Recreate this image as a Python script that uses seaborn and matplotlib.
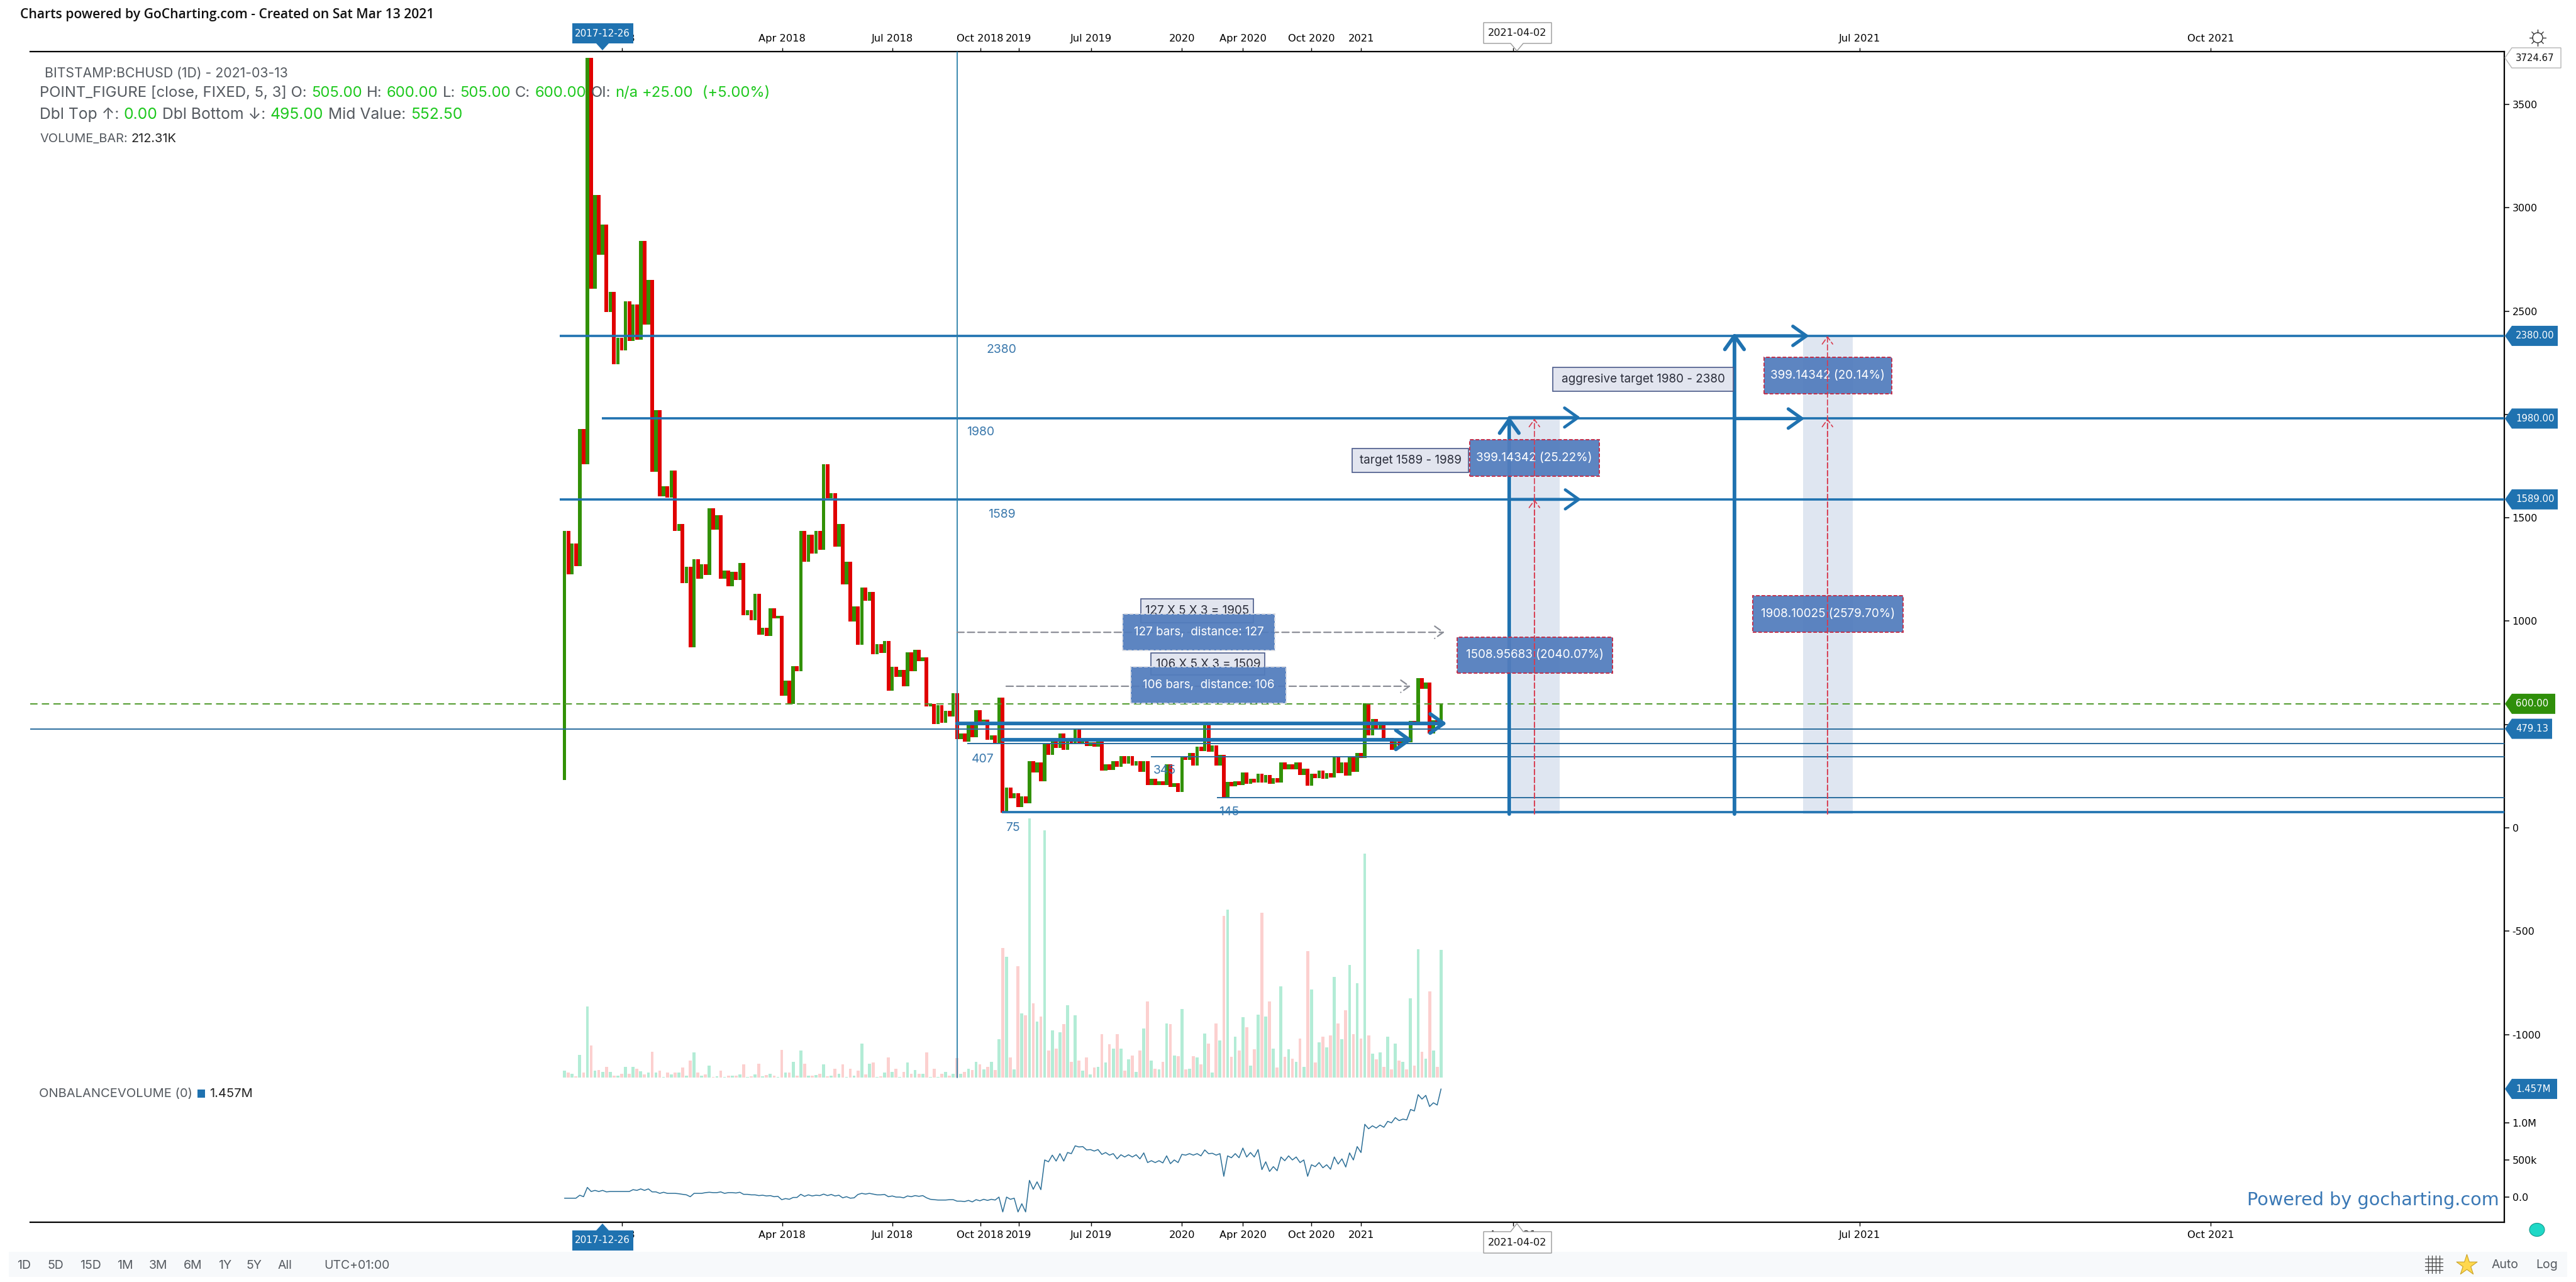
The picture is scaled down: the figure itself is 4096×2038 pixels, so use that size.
import numpy as np
import pandas as pd
import seaborn as sns
import matplotlib
matplotlib.use('Agg')
import matplotlib.pyplot as plt
from matplotlib.patches import Rectangle, Polygon, Ellipse

# P&F column turning points, column i runs from pivots[i] to pivots[i+1]
pivots = [230,1436,1225,1375,1266,1929,1759,3725,2608,3062,2771,2917,2494,2594,2244,2371,2310,2548,2354,2533,
          2361,2839,2436,2652,1723,2021,1604,1652,1599,1730,1436,1470,1184,1264,873,1300,1206,1274,1223,1545,
          1444,1514,1206,1245,1169,1240,1198,1281,1029,1053,1004,1133,934,968,929,1063,1012,1026,640,711,
          601,781,759,1436,1288,1419,1327,1436,1346,1759,1594,1618,1361,1470,1177,1286,997,1070,885,1164,
          1099,1140,839,890,847,905,662,779,730,764,686,849,759,861,808,825,587,599,502,594,
          509,565,538,650,429,456,417,495,439,568,515,522,427,448,412,629,74,196,142,168,
          101,152,118,323,267,318,226,407,353,419,386,456,376,419,406,482,412,419,397,414,
          392,416,278,307,281,323,295,348,311,348,302,323,272,323,208,236,206,226,208,307,
          197,216,172,348,328,363,302,393,371,495,368,399,302,353,145,223,201,226,206,267,
          213,236,218,262,218,257,213,241,218,317,282,307,282,317,257,287,203,262,241,277,
          238,264,243,348,264,317,254,348,272,363,338,603,447,527,475,495,419,436,376,416,
          399,434,414,517,510,723,673,703,457,520,505,600]

# volume in thousands, one per column
volume = [11.3,8.3,5.9,2.5,37.9,8.3,118,53,11.8,12.8,9.8,18.2,9.8,3.4,3.4,5.9,18.2,5.9,18.2,14.3,
          10.8,4.9,8.3,42.7,8.3,11.8,1,8.3,5.4,8.3,8.3,16.7,3.4,28,41.7,8.3,3.4,4.9,19.6,1,
          2.5,11.3,1,2.9,2.9,2.9,4.9,21.6,1,2.5,4.9,23,2,4.4,5.9,3.4,1,46,8.3,8.3,
          26,2.9,44.7,23,2.9,2.9,4.4,5.9,21.6,2.5,3.4,14.3,5.9,21.6,1,14.3,3.4,11.8,56,4.9,
          22.6,25,1,2.5,8.3,33.4,9.8,14.3,1,9.8,25,5.9,12.8,5.9,5.9,41.7,1,14.3,1,5.9,
          9.3,3.4,5.9,32.9,5.9,9.8,
          15,12.2,26.4,21.6,13.2,18.1,26.4,12.2,63.7,215.8,200.8,33.8,13.9,185.1,106.8,103.7,430.8,123.5,93.3,101.6,
          410.6,45.2,78.6,48.4,75.5,88.7,120.1,26.4,103.7,28.5,11.5,33.8,4.9,16.7,18.1,72,25.1,55.3,48.4,72,
          48.4,11.5,30.3,36.9,9.7,45.2,81.8,126.7,28.5,15,13.2,26.4,89.8,88.7,36.9,35.1,113.8,13.2,15,35.1,
          33.8,21.6,73.4,
          56.4,8.7,89.8,61.6,268.7,279.1,34.8,67.9,45.2,100.2,83.5,20.2,46.6,105.1,273.9,101.6,126.7,48,16.7,151.7,
          34.8,46.6,31.3,26.4,64.7,18.1,210.2,146.9,25.1,58.5,68.2,50.1,69.9,167,89.8,63.3,112.1,187.2,71.7,156.6,
          64.7,372.4,69.9,39.7,29.9,41.8,18.1,67.9,13.2,56.4,28.2,26.4,13.2,131.5,19.8,213.7,43.2,31.3,143.4,45.2,
          18.1,212.3]

# on balance volume in millions
obv = [-.015,-.015,-.015,-.015,.025,.005,.13,.075,.09,.075,.09,.07,.075,.075,.075,.075,.075,.075,.1,.09,
       .11,.09,.11,.07,.07,.05,.065,.05,.05,.05,.045,.037,.03,.005,.05,.05,.05,.06,.065,.06,.06,
       .07,.05,.06,.06,.055,.065,.037,.037,.03,.03,.02,.025,.015,.02,.005,.01,-.035,-.02,-.03,-.005,
       -.005,.037,.01,.03,.015,.025,.02,.04,.02,.035,.015,.025,-.01,.005,-.015,-.01,.035,.05,.04,.05,
       .04,.03,.03,.035,.005,.015,0,0,-.01,.015,.005,.02,.01,.02,-.01,-.03,-.035,-.04,-.04,-.04,
       -.035,-.035,-.055,-.055,-.06,-.045,-.065,-.035,-.05,-.03,-.045,-.03,-.04,0,-.2,0,-.03,-.015,-.2,-.09,
       -.2,.225,.105,.205,.1,.5,.475,.565,.485,.585,.485,.6,.585,.69,.675,.68,.635,.64,.62,.64,
       .575,.6,.565,.585,.515,.57,.54,.57,.54,.57,.515,.595,.465,.49,.465,.49,.46,.555,.45,.5,
       .465,.575,.565,.585,.565,.585,.555,.635,.585,.59,.565,.585,.28,.555,.53,.585,.53,.66,.54,.6,
       .54,.64,.37,.475,.345,.41,.355,.54,.49,.555,.5,.54,.465,.5,.28,.435,.41,.465,.395,.435,
       .375,.54,.445,.515,.405,.595,.5,.68,.6,.98,.92,.96,.93,.97,.94,1.02,1.0,1.07,1.03,1.05,
       1.04,1.18,1.16,1.38,1.32,1.37,1.22,1.27,1.24,1.457]

time_ticks = [15.1,57.1,86.1,109.1,119.2,138.2,162,178,196,209,248.9,339.8,432]
time_labels = ['2018','Apr 2018','Jul 2018','Oct 2018','2019','Jul 2019','2020','Apr 2020','Oct 2020','2021','Apr 2021','Jul 2021','Oct 2021']
price_ticks = [3500,3000,2500,2000,1500,1000,500,0,-500,-1000]
price_labels = ['3500','3000','2500','','1500','1000','','0','-500','-1000']
obv_ticks = [1.0,0.5,0.0]
obv_labels = ['1.0M','500k','0.0']

# (price, first bar, line width)
levels = [(2380,-1.2,2.6),(1980,9.8,2.6),(1589,-1.2,2.6),(479.13,-141,1.4),(407,105.7,1.4),(345,153.9,1.4),(145,171.2,1.4),(75,114.8,2.6)]
level_notes = [('2380',114.6,2313),('1980',109.2,1914),('1589',114.8,1515),('407',109.7,332),('345',157.5,277),('145',174.3,76),('75',117.7,0)]
gray_boxes = [('127 X 5 X 3 = 1905',151.2,180.8,992,1108),('106 X 5 X 3 = 1509',153.9,183.8,739,846),
              ('target 1589 - 1989',206.7,237.2,1719,1835),('aggresive target 1980 - 2380',259.3,306.7,2112,2228)]
blue_boxes = [('127 bars,  distance: 127',146.5,186.4,858,1035,'#d8dbe2'),('106 bars,  distance: 106',148.6,189.3,603,779,'#d8dbe2'),
              ('399.14342 (25.22%)',237.5,271.5,1701,1878,'#c22f4b'),('1508.95683 (2040.07%)',234.2,275,749,922,'#c22f4b'),
              ('399.14342 (20.14%)',314.8,348.2,2100,2276,'#c22f4b'),('1908.10025 (2579.70%)',311.8,351.2,946,1123,'#c22f4b')]

BLUE = '#1f72b0'
GREEN_TXT = '#1ec81e'
GRAY_TXT = '#555a60'

sns.set_theme(style='white')
plt.rcParams['font.family'] = ['DejaVu Sans']

fig = plt.figure(figsize=(40.96, 20.38), dpi=100, facecolor='white')
ax = fig.add_axes([48/4096, (2038-1943)/2038, (3982-48)/4096, (1943-82)/2038])
ax_vol = ax.twinx()
ax_obv = ax.twinx()
ax.set_zorder(3)
ax.patch.set_visible(False)
ax_vol.set_zorder(1)
ax_obv.set_zorder(2)
ax_obv.patch.set_visible(False)

bars = np.arange(len(volume))
direction = np.where(bars % 2 == 0, 'up', 'down')
df = pd.DataFrame({'bar': bars, 'volume': volume, 'obv': obv, 'direction': direction,
                   'low': np.minimum(pivots[:-1], pivots[1:]), 'high': np.maximum(pivots[:-1], pivots[1:])})

sns.barplot(data=df, x='bar', y='volume', hue='direction', palette={'up': '#b3ecd6', 'down': '#fcd0cf'},
            native_scale=True, dodge=False, width=0.78, legend=False, ax=ax_vol, saturation=1, linewidth=0)
sns.lineplot(data=df, x='bar', y='obv', color='#2c6f97', lw=1.1, ax=ax_obv, legend=False, errorbar=None)

up = df[df.direction == 'up']
down = df[df.direction == 'down']
ax.bar(up.bar, up.high-up.low, bottom=up.low, width=0.9, color='#329106', linewidth=0, zorder=3)
ax.bar(down.bar, down.high-down.low, bottom=down.low, width=0.98, color='#e00000', linewidth=0, zorder=3.1)

xlim = (-140.2, 509)
ax.set_xlim(xlim)
ax.set_ylim(-1908, 3755.3)
ax_vol.set_xlim(xlim)
ax_vol.set_ylim(-240.6, 1706)
ax_obv.set_xlim(xlim)
ax_obv.set_ylim(-0.339, 15.43)
ax_vol.set_xlabel('')
ax_vol.set_ylabel('')
ax_obv.set_xlabel('')
ax_obv.set_ylabel('')
ax.set_xlabel('')
ax_vol.set_yticks([])

for a in (ax, ax_vol, ax_obv):
    for s in a.spines.values():
        s.set_visible(False)
for s in ('top', 'bottom', 'right'):
    ax.spines[s].set_visible(True)
    ax.spines[s].set_color('black')
    ax.spines[s].set_linewidth(1.6)

ax.set_xticks(time_ticks)
ax.set_xticklabels(time_labels)
ax.tick_params(axis='x', top=True, bottom=True, labeltop=True, labelbottom=True, length=4.5, width=1, pad=5, labelsize=11.7, colors='black', direction='out')
ax.yaxis.tick_right()
ax.set_yticks(price_ticks)
ax.set_yticklabels(price_labels)
ax.tick_params(axis='y', right=True, left=False, labelright=True, labelleft=False, length=6, width=1.1, pad=3, labelsize=11.4, colors='black')
ax_obv.set_yticks(obv_ticks)
ax_obv.set_yticklabels(obv_labels)
ax_obv.tick_params(axis='y', right=True, length=6, width=1.1, pad=3, labelsize=11.4, colors='black')

# bands behind the targets
ax.add_patch(Rectangle((248.6, 67), 12.5, 1913, facecolor='#dfe6f1', edgecolor='none', zorder=1))
ax.add_patch(Rectangle((325, 67), 13, 2313, facecolor='#dfe6f1', edgecolor='none', zorder=1))

for price, start, lw in levels:
    ax.plot([start, xlim[1]], [price, price], color=BLUE if lw > 2 else '#2a6d9e', lw=lw, zorder=4, solid_capstyle='butt')
ax.axhline(600, color='#4f9a2a', lw=1.4, dashes=(6, 3.5), zorder=4)
ax.plot([103, 103], [-1208, 3755], color='#2a7fa8', lw=1.3, zorder=4)

def arrow(x0, y0, x1, y1, color=BLUE, lw=4.2, scale=22, style='->,head_length=0.7,head_width=0.5', ls='-', z=6):
    ax.annotate('', xy=(x1, y1), xytext=(x0, y0), zorder=z, annotation_clip=False,
                arrowprops=dict(arrowstyle=style, lw=lw, color=color, shrinkA=0, shrinkB=0, mutation_scale=scale, linestyle=ls))

arrow(103, 505, 231.5, 505)
arrow(115, 426, 222.5, 426)
arrow(247.9, 67, 247.9, 1990)
arrow(307, 67, 307, 2395)
arrow(247.9, 1985, 266.6, 1985, lw=3.4)
arrow(247.9, 1589, 266.8, 1589, lw=3.4)
arrow(307, 2380, 326.6, 2380, lw=3.8)
arrow(307, 1980, 325.4, 1980, lw=3.8)
arrow(103, 946, 230.9, 946, color='#8a8d96', lw=1.6, ls=(0, (5, 2.5)), scale=14, z=5)
arrow(115.9, 685, 222, 685, color='#8a8d96', lw=1.6, ls=(0, (5, 2.5)), scale=14, z=5)

LABEL_FONT = ['Inter', 'DejaVu Sans']
for txt, x0, x1, y0, y1 in gray_boxes:
    ax.add_patch(Rectangle((x0, y0), x1-x0, y1-y0, facecolor='#e2e5ef', edgecolor='#4a5a8a', lw=1.2, zorder=6))
    ax.text((x0+x1)/2, (y0+y1)/2, txt, ha='center', va='center', fontsize=13.6, color='#2a2d3a', family=LABEL_FONT, zorder=6.1)
for txt, x0, x1, y0, y1, edge in blue_boxes:
    ax.add_patch(Rectangle((x0, y0), x1-x0, y1-y0, facecolor=(0.325, 0.49, 0.74, 0.94), edgecolor=edge, lw=1.4, ls=(0, (3, 1.5)), zorder=7))
    ax.text((x0+x1)/2, (y0+y1)/2, txt, ha='center', va='center', fontsize=13.6, color='white', family=LABEL_FONT, zorder=7.1)

arrow(254.5, 67, 254.5, 1980, color='#d83a4e', lw=1.2, ls=(0, (5, 2.5)), scale=12, z=8)
arrow(254.5, 67, 254.5, 1589, color='#d83a4e', lw=1.2, ls=(0, (5, 2.5)), scale=12, z=8)
arrow(331.4, 67, 331.4, 2380, color='#d83a4e', lw=1.2, ls=(0, (5, 2.5)), scale=12, z=8)
arrow(331.4, 67, 331.4, 1980, color='#d83a4e', lw=1.2, ls=(0, (5, 2.5)), scale=12, z=8)

for txt, x, y in level_notes:
    ax.text(x, y, txt, ha='center', va='center', fontsize=14, color='#3a78ac', family=LABEL_FONT, zorder=6)

# everything outside the plot area, in image pixels
chrome = fig.add_axes([0, 0, 1, 1], zorder=10)
chrome.set_xlim(0, 4096)
chrome.set_ylim(2038, 0)
chrome.axis('off')
chrome.patch.set_visible(False)

def parts(x, y, items, size):
    renderer = fig.canvas.get_renderer()
    for txt, color in items:
        t = chrome.text(x, y, txt, fontsize=size, color=color, va='center', family=LABEL_FONT)
        x += t.get_window_extent(renderer).width + size*0.42

chrome.text(32, 23, 'Charts powered by GoCharting.com - Created on Sat Mar 13 2021', fontsize=15.2, color='#111111', fontweight='semibold', family='Open Sans', va='center')
parts(71, 117, [('BITSTAMP:BCHUSD (1D) - 2021-03-13', GRAY_TXT)], 15.3)
parts(63, 148, [('POINT_FIGURE [close, FIXED, 5, 3] O:', GRAY_TXT), ('505.00', GREEN_TXT), ('H:', GRAY_TXT), ('600.00', GREEN_TXT),
                ('L:', GRAY_TXT), ('505.00', GREEN_TXT), ('C:', GRAY_TXT), ('600.00', GREEN_TXT), ('OI:', GRAY_TXT),
                ('n/a', GREEN_TXT), ('+25.00', GREEN_TXT), (' (+5.00%)', GREEN_TXT)], 17.2)
parts(63, 182, [('Dbl Top ↑:', GRAY_TXT), ('0.00', GREEN_TXT), ('Dbl Bottom ↓:', GRAY_TXT), ('495.00', GREEN_TXT),
                ('Mid Value:', GRAY_TXT), ('552.50', GREEN_TXT)], 17.8)
parts(63, 221, [('VOLUME_BAR:', GRAY_TXT), ('212.31K', '#222222')], 14.4)
parts(62, 1739, [('ONBALANCEVOLUME (0)', GRAY_TXT)], 14.5)
chrome.add_patch(Rectangle((314, 1732), 12, 13, facecolor=BLUE, edgecolor='none'))
parts(333, 1739, [('1.457M', '#222222')], 14.5)

# date flags
for body_top, body_bot, tip in ((37, 69, 80), (1956, 1988, 1945)):
    chrome.add_patch(Polygon([(910, body_top), (1007, body_top), (1007, body_bot), (910, body_bot)], facecolor=BLUE, edgecolor='none'))
    base = body_bot if tip > body_bot else body_top
    chrome.add_patch(Polygon([(948, base), (968, base), (958, tip)], facecolor=BLUE, edgecolor='none'))
    chrome.text(958, (body_top+body_bot)/2, '2017-12-26', color='white', fontsize=10.9, ha='center', va='center')
for y0, y1, tip in ((36, 69, 81), (1992, 1958, 1945)):
    chrome.add_patch(Polygon([(2359, y0), (2467, y0), (2467, y1), (2422, y1), (2412, tip), (2402, y1), (2359, y1)],
                             facecolor='white', edgecolor='#9a9a9a', lw=1))
    chrome.text(2413, (y0+y1)/2, '2021-04-02', color='#111111', fontsize=11.6, ha='center', va='center')

# price flags on the right
def flag(y, txt, color, right, edge='none', tcolor='white'):
    chrome.add_patch(Polygon([(3983, y), (3994, y-16), (right, y-16), (right, y+16), (3994, y+16)], facecolor=color, edgecolor=edge, lw=1))
    chrome.text(4000, y, txt, color=tcolor, fontsize=10.7, va='center')

def py(a, v):
    return 2038 - a.transData.transform((0, v))[1]

flag(py(ax, 2380), '2380.00', BLUE, 4067)
flag(py(ax, 1980), '1980.00', BLUE, 4067)
flag(py(ax, 1589), '1589.00', BLUE, 4067)
flag(py(ax, 600), '600.00', '#2f8f0a', 4063)
flag(py(ax, 479.13), '479.13', BLUE, 4058)
flag(py(ax_obv, 1.457), '1.457M', BLUE, 4066)
flag(92, '3724.67', 'white', 4072, edge='#b5b5b5', tcolor='#111111')

chrome.text(3974, 1908, 'Powered by gocharting.com', color='#3a78b5', fontsize=20.6, ha='right', va='center')

# bottom toolbar
chrome.add_patch(Rectangle((14, 1990), 4068, 40, facecolor='#f7f9fb', edgecolor='none', zorder=0))
range_names = ['1D', '5D', '15D', '1M', '3M', '6M', '1Y', '5Y', 'All', 'UTC+01:00']
range_x = [38, 88, 144, 199, 252, 307, 358, 404, 453, 567]
for x, txt in zip(range_x, range_names):
    chrome.text(x, 2012, txt, color=GRAY_TXT, fontsize=14, ha='center', va='center', family=LABEL_FONT)
chrome.text(3983, 2011, 'Auto', color=GRAY_TXT, fontsize=14, ha='center', va='center', family=LABEL_FONT)
chrome.text(4050, 2011, 'Log', color=GRAY_TXT, fontsize=14, ha='center', va='center', family=LABEL_FONT)
for off in (-9, -3, 3, 9):
    chrome.plot([3870+off, 3870+off], [1996, 2024], color='#444444', lw=0.9)
    chrome.plot([3856, 3884], [2010+off, 2010+off], color='#444444', lw=0.9)
chrome.scatter([3922], [2011], marker='*', s=620, color='#ffd84d', edgecolor='#c9a227', lw=0.8)

# gear and status dot
chrome.add_patch(Ellipse((4035, 60), 16, 16, facecolor='white', edgecolor='#333333', lw=1))
for ang in np.arange(0, 360, 45):
    r = np.deg2rad(ang)
    chrome.plot([4035+8*np.cos(r), 4035+13*np.cos(r)], [60+8*np.sin(r), 60+13*np.sin(r)], color='#333333', lw=1)
chrome.add_patch(Ellipse((4034, 1955), 24, 21, facecolor='#1fd8c6', edgecolor='#159a8e', lw=0.8))

fig.savefig('out.png', dpi=100, facecolor='white')
